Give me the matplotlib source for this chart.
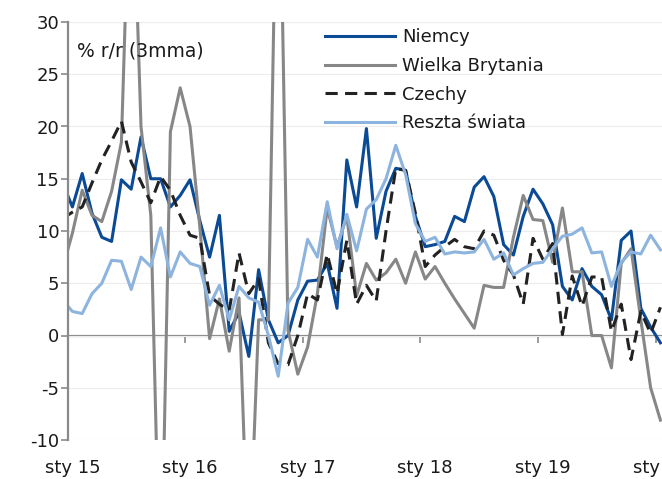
import matplotlib
matplotlib.use("Agg")
import matplotlib.pyplot as plt

plt.rcParams["font.family"] = ["DejaVu Sans"]
plt.rcParams["axes.unicode_minus"] = False

# monthly, Dec 2014 .. Jan 2020 (Dec 2014 only enters at the left edge)
months = list(range(-1, 61))
niemcy = [14.6, 12.3, 15.5, 11.7, 9.4, 9.0, 14.9, 14.0, 19.0, 15.0, 15.0, 12.3,
          13.4, 14.9, 11.0, 7.5, 11.5, 0.4, 2.2, -2.0, 6.3, 1.5, -0.7, 0.0,
          3.4, 5.2, 5.3, 6.9, 2.6, 16.8, 12.3, 19.8, 9.3, 13.8, 16.0, 15.8,
          11.4, 8.5, 8.7, 9.0, 11.4, 10.9, 14.2, 15.2, 13.3, 8.7, 7.7, 11.4,
          14.0, 12.6, 10.6, 4.7, 3.4, 6.4, 4.7, 3.9, 1.5, 9.1, 10.0, 2.6,
          0.8, -0.7]
wielka_brytania = [6.4, 9.8, 13.9, 11.5, 10.9, 13.8, 18.5, 49.0, 20.0, 11.5, -27.0, 19.5,
                   23.7, 20.0, 10.4, -0.3, 3.5, -1.5, 3.6, -23.0, 1.5, 1.5, 54.0, 0.5,
                   -3.7, -1.1, 4.0, 12.2, 8.5, 11.4, 3.8, 6.9, 5.3, 6.0, 7.3, 5.0,
                   8.0, 5.4, 6.6, 5.0, 3.5, 2.1, 0.7, 4.8, 4.6, 4.6, 9.4, 13.4,
                   11.1, 11.0, 7.0, 12.2, 6.1, 6.1, 0.0, 0.0, -3.1, 6.9, 8.3, 1.5,
                   -5.0, -8.1]
czechy = [11.2, 11.8, 12.3, 14.6, 16.8, 18.6, 20.5, 16.6, 14.7, 12.7, 15.2, 13.9,
          11.5, 9.6, 9.3, 3.8, 3.0, 2.4, 7.9, 4.0, 5.4, -0.7, -2.7, -2.8,
          0.0, 4.0, 3.4, 7.8, 4.0, 9.1, 3.0, 4.8, 3.3, 10.0, 16.0, 15.8,
          11.7, 6.6, 7.7, 8.5, 9.2, 8.5, 8.3, 10.0, 9.6, 7.2, 5.8, 3.0,
          9.3, 7.3, 8.8, 0.1, 5.7, 2.8, 5.6, 5.6, 0.4, 3.0, -2.3, 2.3,
          0.2, 2.7]
reszta = [3.4, 2.3, 2.1, 4.0, 5.0, 7.2, 7.1, 4.4, 7.5, 6.6, 10.3, 5.6,
          8.0, 6.9, 6.6, 2.9, 4.8, 1.5, 4.7, 3.6, 3.2, 0.0, -3.9, 3.1,
          4.6, 9.2, 7.5, 12.8, 8.3, 11.6, 8.1, 12.1, 13.0, 15.0, 18.2, 15.4,
          10.7, 9.0, 9.4, 7.8, 8.0, 7.9, 8.0, 9.2, 7.3, 7.9, 5.8, 6.4,
          6.9, 7.0, 8.3, 9.5, 9.7, 10.3, 7.9, 8.0, 4.7, 7.0, 8.0, 7.8,
          9.6, 8.2]

year_labels = ["sty 15", "sty 16", "sty 17", "sty 18", "sty 19", "sty 20"]
y_ticks = [-10, -5, 0, 5, 10, 15, 20, 25, 30]

DARK = "#0b4a94"
GREY = "#878787"
BLACK = "#222222"
LIGHT = "#8db4de"
AXIS = "#8a8a8a"
FS = 13

fig = plt.figure(figsize=(6.62, 4.79), dpi=100)
ax = fig.add_axes([67.5 / 662, 39 / 479, 1 - 67.5 / 662, 418 / 479])

x = [m + 0.5 for m in months]   # points sit in the middle of each month
lw = 2.2
ax.plot(x, niemcy, color=DARK, lw=lw, label="Niemcy")
ax.plot(x, wielka_brytania, color=GREY, lw=lw, label="Wielka Brytania")
ax.plot(x, czechy, color=BLACK, lw=lw, dashes=(4, 2.4), label="Czechy")
ax.plot(x, reszta, color=LIGHT, lw=lw, label="Reszta świata")

ax.set_xlim(0, 60.66)
ax.set_ylim(-10, 30)

ax.set_yticks(y_ticks)
ax.set_yticklabels([str(v) for v in y_ticks])
ax.grid(axis="y", color="#ececec", lw=0.8)
ax.set_axisbelow(True)

for side in ("top", "right", "bottom"):
    ax.spines[side].set_visible(False)
ax.spines["left"].set_color(AXIS)
ax.spines["left"].set_linewidth(1.6)
ax.tick_params(axis="y", length=5, width=1.2, color=AXIS, pad=1,
               labelsize=FS, labelcolor="#1a1a1a")

# year labels centred on January, at the bottom of the plot
ax.set_xticks([12 * i + 0.5 for i in range(len(year_labels))])
ax.set_xticklabels(year_labels)
ax.tick_params(axis="x", length=0, pad=14, labelsize=FS, labelcolor="#1a1a1a")

# x axis line crossing at zero, with ticks at year boundaries
zero = ax.secondary_xaxis(10 / 40)
zero.set_xticks([12 * i for i in range(len(year_labels))])
zero.set_xticklabels([])
zero.spines["bottom"].set_color(AXIS)
zero.spines["bottom"].set_linewidth(1.6)
zero.tick_params(length=5, width=1.2, color=AXIS)

fig.text(77 / 662, 1 - 51 / 479, "% r/r (3mma)", fontsize=13.5,
         color="#1a1a1a", va="center", ha="left")

ax.legend(loc="upper left", bbox_to_anchor=(325 / 662, 1 - 28 / 479),
          bbox_transform=fig.transFigure, frameon=False, fontsize=FS,
          handlelength=3.88, handletextpad=0.4, labelspacing=0.6,
          borderpad=0, borderaxespad=0, labelcolor="#1a1a1a")

fig.savefig("out.png", dpi=100)
